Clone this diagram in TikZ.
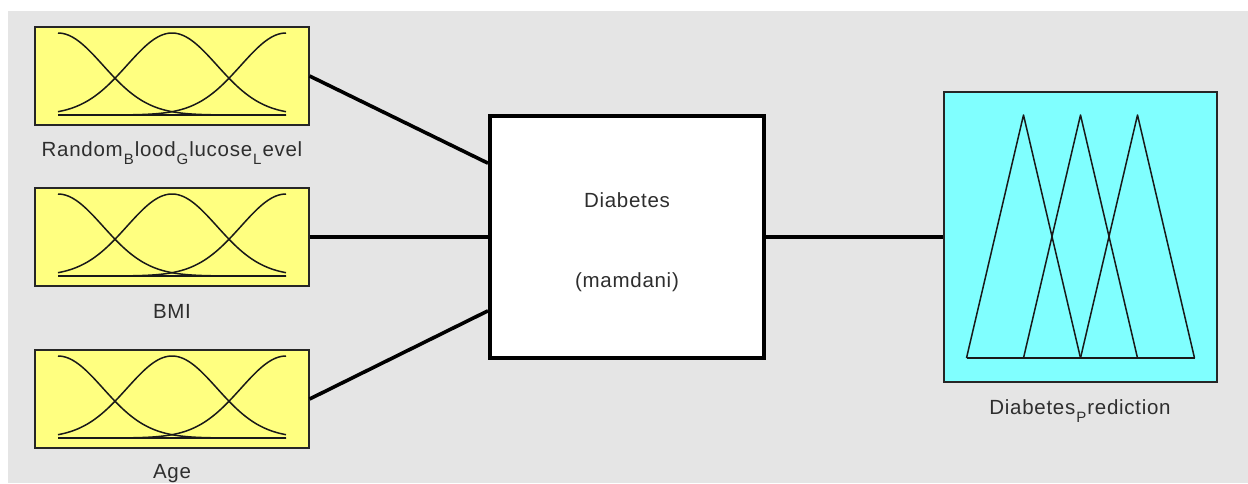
\documentclass[tikz,border=0pt]{standalone}
\usepackage{fontspec}
\setmainfont{Liberation Sans}[LetterSpace=3.5]
\usetikzlibrary{calc}

\definecolor{panel}{HTML}{E5E5E5}
\definecolor{inyellow}{HTML}{FFFF80}
\definecolor{outcyan}{HTML}{80FFFF}
\definecolor{labelgray}{HTML}{2E2E2E}

% lowered letter standing in for an underscore in a variable name
\newcommand{\lsub}[1]{\kern1pt\raisebox{-0.42em}{\fontsize{15}{15}\selectfont #1}\kern1pt}

\tikzset{
  inbox/.style={draw=black!85, line width=1.2pt, fill=inyellow,
    minimum width=274pt, minimum height=98pt, inner sep=0pt},
  outbox/.style={draw=black!85, line width=1.2pt, fill=outcyan,
    minimum width=273pt, minimum height=290pt, inner sep=0pt},
  fisbox/.style={draw=black, line width=4pt, fill=white,
    minimum width=274pt, minimum height=242pt, inner sep=0pt},
  varlabel/.style={anchor=base, text=labelgray, inner sep=0pt,
    font=\fontsize{20.5}{20.5}\selectfont},
  link/.style={line width=3.6pt, black},
  mf/.style={line width=1.5pt, black!90, line join=round},
}

% three gaussian membership functions inside an input box
\newcommand{\gaussmfs}[1]{%
  \begin{scope}[shift={(#1.center)}]
    \foreach \mu in {-114,0,114}{
      \draw[mf] plot[domain=-114:114, samples=90, smooth]
        (\x,{39-82*exp(-0.5*((\x-\mu)/45)^2)});
    }
    \draw[mf] (-114,39) -- (114,39);
  \end{scope}}

\begin{document}
\begin{tikzpicture}[x=1pt,y=-1pt]
  \useasboundingbox (0,0) rectangle (1248,483);
  \fill[white] (0,0) rectangle (1248,483);
  \fill[panel] (8,11) rectangle (1248,483);

  % inputs
  \node[inbox] (in1) at (172,76) {};
  \node[inbox] (in2) at (172,237) {};
  \node[inbox] (in3) at (172,399) {};
  \gaussmfs{in1}
  \gaussmfs{in2}
  \gaussmfs{in3}
  \node[varlabel] (lab1) at (172,156) {Random\lsub{B}lood\lsub{G}lucose\lsub{L}evel};
  \node[varlabel] (lab2) at (172,318) {BMI};
  \node[varlabel] (lab3) at (172,478) {Age};

  % inference system
  \node[fisbox] (fis) at (627,237) {};
  \node[varlabel] (fisname) at (627,207) {Diabetes};
  \node[varlabel] (fistype) at (627,287) {(mamdani)};
  \coordinate (p1) at ($(fis.north west)!0.2!(fis.south west)$);
  \coordinate (p2) at (fis.west);
  \coordinate (p3) at ($(fis.north west)!0.8!(fis.south west)$);

  % output
  \node[outbox] (out) at (1080.5,237) {};
  \begin{scope}[shift={(out.center)}]
    \draw[mf] (-114,121) -- (-57,-122) -- (0,121);
    \draw[mf] (-57,121) -- (0,-122) -- (57,121);
    \draw[mf] (0,121) -- (57,-122) -- (114,121);
    \draw[mf] (-114,121) -- (114,121);
  \end{scope}
  \node[varlabel] (lab4) at (1080,414) {Diabetes\lsub{P}rediction};

  % connectors
  \draw[link] (in1.east) -- (p1);
  \draw[link] (in2.east) -- (p2);
  \draw[link] (in3.east) -- (p3);
  \draw[link] (fis.east) -- (out.west);
\end{tikzpicture}
\end{document}
